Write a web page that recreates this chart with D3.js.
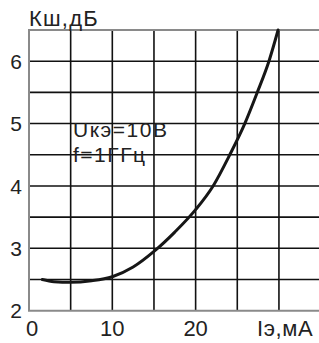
<!DOCTYPE html>
<html>
<head>
<meta charset="utf-8">
<script src="https://cdn.jsdelivr.net/npm/d3@7"></script>
<style>
  body { margin: 0; background: #fff; }
  text { font-family: "Liberation Sans", Arial, sans-serif; fill: #222; }
</style>
</head>
<body>
<script>
// noise figure vs emitter current
var currentMA = [1.6, 3, 5, 7.5, 10, 12.5, 15, 17.5, 20, 22.1, 24.1, 25.9, 27.4, 28.8, 29.9];
var noiseDB   = [2.5, 2.465, 2.455, 2.48, 2.545, 2.7, 2.95, 3.26, 3.62, 4.0, 4.5, 5.0, 5.5, 6.0, 6.5];
var xTicks = [0, 10, 20];
var yTicks = [2, 3, 4, 5, 6];
var xGrid = [5, 10, 15, 20, 25, 30, 35];
var yGrid = [2.5, 3, 3.5, 4, 4.5, 5, 5.5, 6];
var notes = ['Uкэ=10В', 'f=1ГГц'];

var W = 319, H = 343;
var svg = d3.select('body').append('svg')
    .attr('width', W)
    .attr('height', H);

var x = d3.scaleLinear().domain([0, 35]).range([29, 320.6]);
var y = d3.scaleLinear().domain([2, 6.5]).range([310.7, 30]);

// grid
svg.selectAll('line.gx').data(xGrid).enter().append('line')
    .attr('x1', d => x(d)).attr('x2', d => x(d))
    .attr('y1', y(6.5)).attr('y2', y(2))
    .attr('stroke', '#111').attr('stroke-width', 1.6);
svg.selectAll('line.gy').data(yGrid).enter().append('line')
    .attr('x1', x(0)).attr('x2', x(35))
    .attr('y1', d => y(d)).attr('y2', d => y(d))
    .attr('stroke', '#111').attr('stroke-width', 1.6);

// frame (left, top, bottom) in grey
svg.append('path')
    .attr('d', 'M' + x(35) + ',' + y(6.5) + 'H' + x(0) + 'V' + y(2) + 'H' + x(35))
    .attr('fill', 'none').attr('stroke', '#8a8a8a').attr('stroke-width', 2);

// curve
var line = d3.line().curve(d3.curveMonotoneX)
    .x((d, i) => x(currentMA[i]))
    .y(d => y(d));
svg.append('path').attr('d', line(noiseDB))
    .attr('fill', 'none').attr('stroke', '#161616').attr('stroke-width', 3)
    .attr('stroke-linecap', 'round');

// tick labels
svg.selectAll('text.yt').data(yTicks).enter().append('text')
    .attr('x', 22).attr('y', d => y(d))
    .attr('dy', '0.36em')
    .attr('text-anchor', 'end')
    .attr('font-size', 21)
    .text(d => d);
svg.selectAll('text.xt').data(xTicks).enter().append('text')
    .attr('x', d => x(d) + (d === 0 ? 3 : 0)).attr('y', 336)
    .attr('text-anchor', 'middle')
    .attr('font-size', 22)
    .text(d => d);

// axis titles
svg.append('text').attr('x', 29).attr('y', 26).attr('font-size', 22)
    .attr('letter-spacing', 1.2).text('Кш,дБ');
svg.append('text').attr('x', 257).attr('y', 336)
    .attr('font-size', 22).attr('letter-spacing', 0.6).text('Iэ,мА');

// conditions
svg.selectAll('text.note').data(notes).enter().append('text')
    .attr('x', 73).attr('y', (d, i) => 136.5 + i * 25.5)
    .attr('font-size', 21)
    .attr('letter-spacing', 1.5)
    .text(d => d);
</script>
</body>
</html>
